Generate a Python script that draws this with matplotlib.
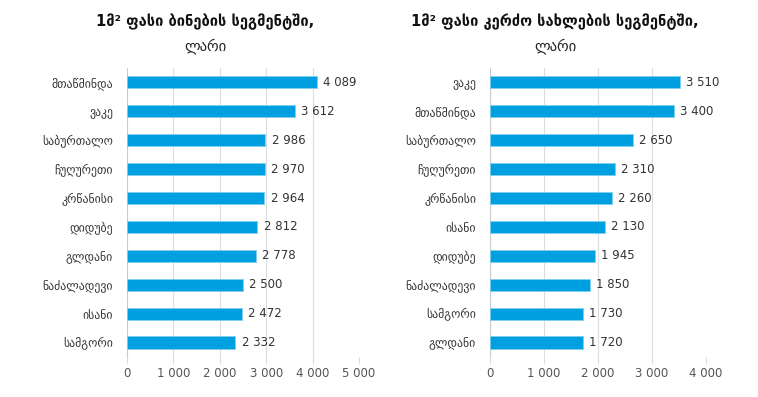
import matplotlib
matplotlib.use("Agg")
import matplotlib.pyplot as plt

plt.rcParams["font.family"] = ["DejaVu Sans"]

# apartments segment
flat_districts = ["მთაწმინდა", "ვაკე", "საბურთალო", "ჩუღურეთი", "კრწანისი",
                  "დიდუბე", "გლდანი", "ნაძალადევი", "ისანი", "სამგორი"]
flat_prices = [4089, 3612, 2986, 2970, 2964, 2812, 2778, 2500, 2472, 2332]

# private houses segment
house_districts = ["ვაკე", "მთაწმინდა", "საბურთალო", "ჩუღურეთი", "კრწანისი",
                   "ისანი", "დიდუბე", "ნაძალადევი", "სამგორი", "გლდანი"]
house_prices = [3510, 3400, 2650, 2310, 2260, 2130, 1945, 1850, 1730, 1720]

flat_ticks = [0, 1000, 2000, 3000, 4000, 5000]
house_ticks = [0, 1000, 2000, 3000, 4000]

BAR = "#009fdf"
GRID = "#dddddd"
TXT = "#333333"


def fmt(v):
    return f"{v:,}".replace(",", " ")


def panel(ax, names, vals, ticks):
    y = list(range(len(names)))
    ax.barh(y, vals, height=0.42, color=BAR, edgecolor="#7fd0ef", lw=0.6, zorder=3)
    for yi, v in zip(y, vals):
        ax.text(v + ticks[-1] * 0.028, yi, fmt(v), va="center", ha="left",
                fontsize=8.5, color=TXT)
    ax.set_yticks(y)
    ax.set_yticklabels(names, fontsize=8.5, color=TXT)
    ax.set_ylim(len(names) - 0.5, -0.5)
    ax.set_xlim(0, ticks[-1])
    ax.set_xticks(ticks)
    ax.set_xticklabels([fmt(t) for t in ticks], fontsize=8.5, color="#555555")
    ax.grid(axis="x", color=GRID, lw=0.8, zorder=0)
    for s in ["top", "right", "bottom"]:
        ax.spines[s].set_visible(False)
    ax.spines["left"].set_color("#cccccc")
    ax.tick_params(axis="y", length=0, pad=10)
    ax.tick_params(axis="x", length=5, color=GRID, pad=2)


fig = plt.figure(figsize=(7.58, 3.97), dpi=100)
ax1 = fig.add_axes([0.1675, 0.1008, 0.306, 0.728])
ax2 = fig.add_axes([0.6464, 0.1008, 0.285, 0.728])

panel(ax1, flat_districts, flat_prices, flat_ticks)
panel(ax2, house_districts, house_prices, house_ticks)

fig.text(205 / 758, 1 - 22 / 397, "1მ² ფასი ბინების სეგმენტში,", ha="center",
         va="center", fontsize=10.5, fontweight="bold", color="#111111")
fig.text(205 / 758, 1 - 46 / 397, "ლარი", ha="center", va="center",
         fontsize=10.5, color="#222222")
fig.text(555 / 758, 1 - 22 / 397, "1მ² ფასი კერძო სახლების სეგმენტში,", ha="center",
         va="center", fontsize=10.5, fontweight="bold", color="#111111")
fig.text(555 / 758, 1 - 46 / 397, "ლარი", ha="center", va="center",
         fontsize=10.5, color="#222222")

fig.savefig("out.png", dpi=100, facecolor="white")
